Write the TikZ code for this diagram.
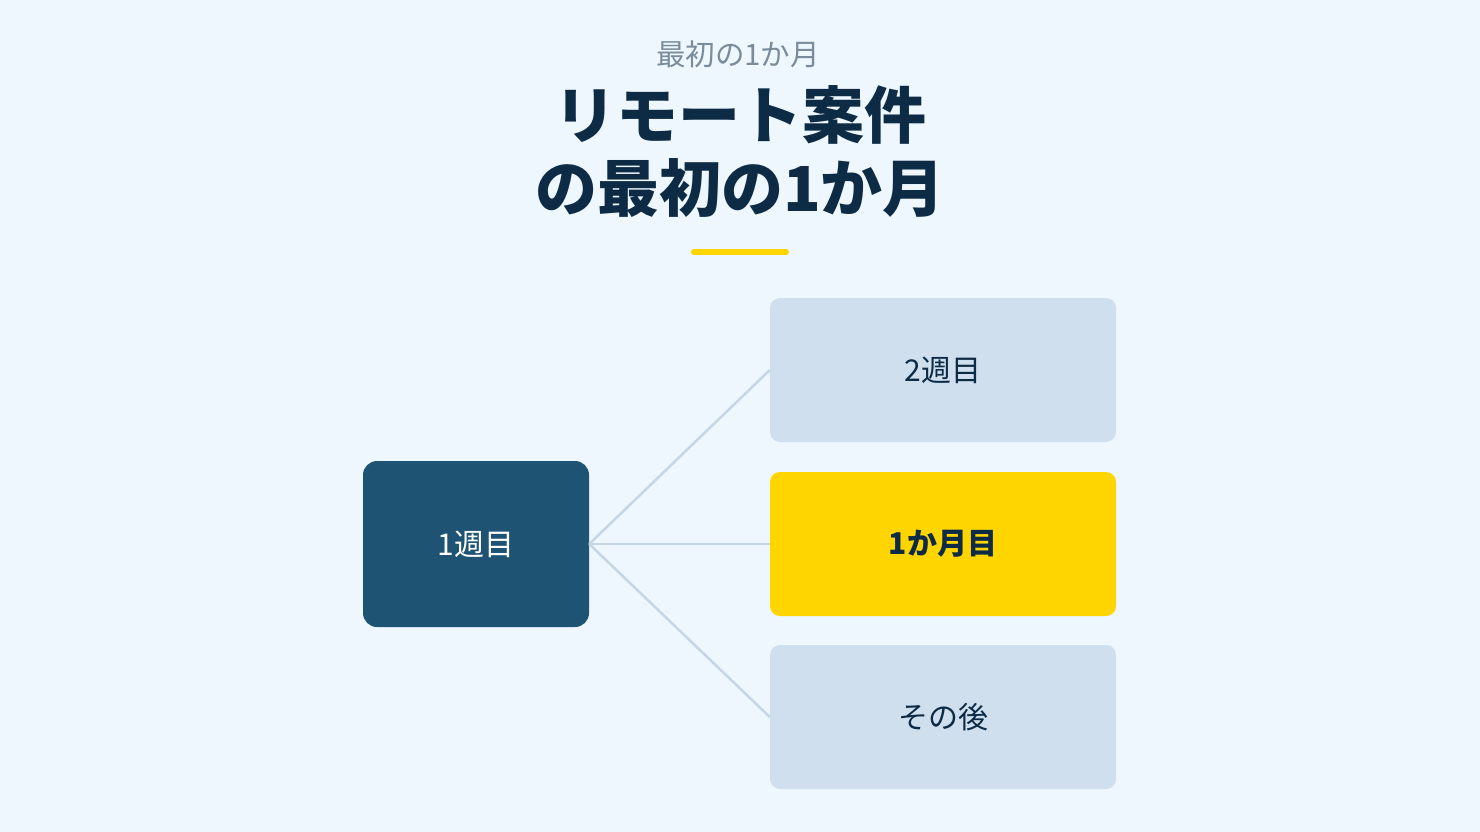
\documentclass[tikz,border=0pt]{standalone}
\usepackage{fontspec}
\newfontfamily\jp{Noto Sans CJK JP}
\definecolor{bg}{HTML}{EEF6FE}
\definecolor{navy}{HTML}{1F5374}
\definecolor{pale}{HTML}{CFDFEE}
\definecolor{gold}{HTML}{FFD500}
\definecolor{ink}{HTML}{0D2B45}
\definecolor{sub}{HTML}{7A8C9C}
\definecolor{wire}{HTML}{C6D6E5}
\tikzset{
  leftbox/.style={fill=navy, rounded corners=14pt, minimum width=226pt, minimum height=166pt, inner sep=0pt, text=white, font=\jp\fontsize{30}{36}\selectfont},
  rightbox/.style={fill=pale, rounded corners=10pt, minimum width=346pt, minimum height=144pt, inner sep=0pt, text=ink, font=\jp\fontsize{30}{36}\selectfont},
  hotbox/.style={rightbox, fill=gold, font=\jp\bfseries\fontsize{30}{36}\selectfont},
  link/.style={draw=wire, line width=2.5pt},
}
\begin{document}
\begin{tikzpicture}[x=1pt,y=-1pt]
\fill[bg] (0,0) rectangle (1480,832);
\useasboundingbox (0,0) rectangle (1480,832);
\node[text=sub, font=\jp\fontsize{29.5}{34}\selectfont] (sub) at (738,54) {最初の1か月};
\node[text=ink, font=\jp\bfseries\fontsize{62}{74}\selectfont, align=center] (t1) at (740,115) {リモート案件};
\node[text=ink, font=\jp\bfseries\fontsize{62}{74}\selectfont, align=center] (t2) at (740,188) {の最初の1か月};
\draw[gold, line width=6pt, line cap=round] (694,252) coordinate (b1) -- (786,252) coordinate (b2);
\node[leftbox] (w1) at (476,544) {1週目};
\node[rightbox] (w2) at (943,370) {2週目};
\node[hotbox] (m1) at (943,544) {1か月目};
\node[rightbox] (after) at (943,717) {その後};
\draw[link] (w1.east) -- (w2.west);
\draw[link] (w1.east) -- (m1.west);
\draw[link] (w1.east) -- (after.west);
\end{tikzpicture}
\end{document}
